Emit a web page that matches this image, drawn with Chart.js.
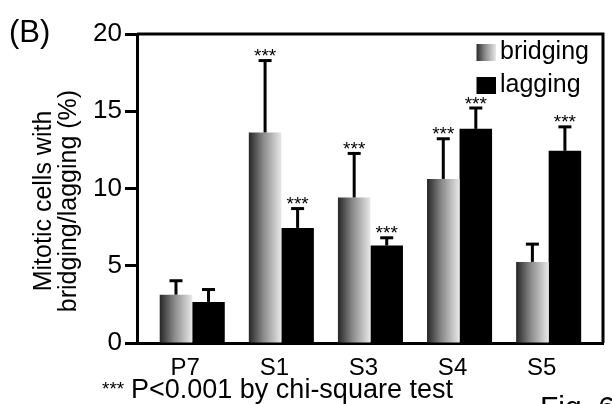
<!DOCTYPE html>
<html>
<head>
<meta charset="utf-8">
<script src="https://cdn.jsdelivr.net/npm/chart.js@4.4.1/dist/chart.umd.min.js"></script>
<style>
html,body{margin:0;padding:0;background:#fff;}
#wrap{width:612px;height:404px;position:relative;}
canvas{display:block;}
</style>
</head>
<body>
<div id="wrap"><canvas id="c" width="612" height="404"></canvas></div>
<script>
// ---- data ----
const categories = ['P7', 'S1', 'S3', 'S4', 'S5'];
const bridging    = [3.13, 13.63, 9.42, 10.62, 5.25];
const bridgingErr = [0.9, 4.65, 2.85, 2.6, 1.15];
const lagging     = [2.66, 7.45, 6.31, 13.86, 12.44];
const laggingErr  = [0.8, 1.25, 0.5, 1.35, 1.55];
const bridgingSig = [false, true, true, true, false];
const laggingSig  = [false, true, true, true, true];
const yTicks = [0, 5, 10, 15, 20];
const seriesNames = ['bridging', 'lagging'];
const yTitle = ['Mitotic cells with', 'bridging/lagging (%)'];
const panelLabel = '(B)';
const footStars = '***';
const footText = 'P<0.001 by chi-square test';
const figText = 'Fig. 6';

const FONT = '"Liberation Sans", Arial, Helvetica, sans-serif';
const CAT_PCT = 0.73;

function shade(g) {
  g.addColorStop(0, '#262626');
  g.addColorStop(0.45, '#8a8a8a');
  g.addColorStop(1, '#e8e8e8');
  return g;
}

// legend swatches
const gradBox = document.createElement('canvas');
gradBox.width = 20; gradBox.height = 17;
(function(){ const c = gradBox.getContext('2d'); c.fillStyle = shade(c.createLinearGradient(0,0,20,0)); c.fillRect(0,0,20,17); })();
const blackBox = document.createElement('canvas');
blackBox.width = 20; blackBox.height = 17;
(function(){ const c = blackBox.getContext('2d'); c.fillStyle = '#000'; c.fillRect(0,0,20,17); })();

function bridgingColor(ctx) {
  const chart = ctx.chart;
  const xs = chart.scales && chart.scales.x;
  if (!chart.chartArea || !xs || ctx.type !== 'data') return '#888';
  const c = xs.getPixelForValue(ctx.dataIndex);
  const step = Math.abs(xs.getPixelForValue(1) - xs.getPixelForValue(0));
  const w = step * CAT_PCT / 2;
  return shade(chart.ctx.createLinearGradient(c - w, 0, c, 0));
}

const extras = {
  id: 'extras',
  afterLayout(chart) {
    const lg = chart.legend;
    if (lg) {
      lg.left = 476.5; lg.top = 32;
      lg.right = lg.left + lg.width; lg.bottom = lg.top + lg.height;
    }
  },
  afterDatasetsDraw(chart) {
    const ctx = chart.ctx, ys = chart.scales.y, ca = chart.chartArea;
    ctx.save();
    ctx.strokeStyle = '#000'; ctx.fillStyle = '#000'; ctx.lineWidth = 3;
    // frame top and right
    ctx.beginPath();
    ctx.moveTo(ca.left, ca.top); ctx.lineTo(ca.right, ca.top); ctx.lineTo(ca.right, ca.bottom);
    ctx.stroke();
    const sets = [[bridging, bridgingErr, bridgingSig], [lagging, laggingErr, laggingSig]];
    sets.forEach((s, di) => {
      const meta = chart.getDatasetMeta(di);
      meta.data.forEach((bar, i) => {
        const x = bar.x;
        const y0 = ys.getPixelForValue(s[0][i]);
        const y1 = ys.getPixelForValue(s[0][i] + s[1][i]);
        ctx.lineWidth = 3;
        ctx.beginPath(); ctx.moveTo(x, y0); ctx.lineTo(x, y1); ctx.stroke();
        ctx.beginPath(); ctx.moveTo(x - 6.5, y1); ctx.lineTo(x + 6.5, y1); ctx.stroke();
        if (s[2][i]) {
          ctx.font = '19px ' + FONT; ctx.textAlign = 'center'; ctx.textBaseline = 'alphabetic';
          ctx.fillText('***', x, y1 + 1.5);
        }
      });
    });
    ctx.restore();
  },
  afterDraw(chart) {
    const ctx = chart.ctx;
    ctx.save();
    ctx.fillStyle = '#000';
    ctx.textBaseline = 'alphabetic';
    // panel label
    ctx.textAlign = 'left';
    ctx.font = '31px ' + FONT;
    ctx.fillText(panelLabel, 9, 42);
    // y title
    ctx.font = '25px ' + FONT;
    ctx.textAlign = 'center';
    [[yTitle[0], 50.5], [yTitle[1], 75.5]].forEach(([t, bx]) => {
      ctx.save(); ctx.translate(bx, 201); ctx.rotate(-Math.PI / 2); ctx.fillText(t, 0, 0); ctx.restore();
    });
    // footnote
    ctx.textAlign = 'left';
    ctx.font = '19px ' + FONT;
    ctx.fillText(footStars, 102, 395);
    ctx.font = '27px ' + FONT;
    ctx.fillText(footText, 131, 398);
    ctx.font = '30px ' + FONT;
    ctx.fillText(figText, 540, 417);
    ctx.restore();
  }
};

new Chart(document.getElementById('c'), {
  type: 'bar',
  data: {
    datasets: [
      { label: seriesNames[0], data: bridging.map((v, i) => ({x: i, y: v})), backgroundColor: bridgingColor, borderWidth: 0 },
      { label: seriesNames[1], data: lagging.map((v, i) => ({x: i, y: v})), backgroundColor: '#000', borderWidth: 0 }
    ]
  },
  options: {
    responsive: false,
    animation: false,
    devicePixelRatio: 1,
    categoryPercentage: CAT_PCT,
    barPercentage: 1.0,
    layout: { padding: { left: 0, top: 34, right: 9, bottom: 0 } },
    scales: {
      x: {
        type: 'linear', min: -0.62, max: 4.61, offset: false, z: 1,
        afterBuildTicks: s => { s.ticks = categories.map((c, i) => ({value: i})); },
        afterFit: s => { s.height = 61; },
        ticks: { callback: v => categories[v], font: { size: 24, family: FONT }, color: '#000', padding: 3, labelOffset: -7, maxRotation: 0, autoSkip: false },
        grid: { display: false, offset: false },
        border: { display: true, width: 3, color: '#000' }
      },
      y: {
        min: 0, max: 20,
        afterBuildTicks: s => { s.ticks = yTicks.map(v => ({value: v})); },
        afterFit: s => { s.width = 137; },
        ticks: { font: { size: 26, family: FONT }, color: '#000', padding: 3 },
        grid: { drawOnChartArea: false, drawTicks: true, tickLength: 12, tickWidth: 3, tickColor: '#000', color: '#000' },
        border: { display: true, width: 3, color: '#000' }
      }
    },
    plugins: {
      tooltip: { enabled: false },
      legend: {
        position: 'chartArea', align: 'start',
        labels: {
          font: { size: 25, family: FONT }, color: '#000',
          usePointStyle: true, boxWidth: 3, boxHeight: 17, padding: 8,
          generateLabels: chart => {
            const items = Chart.defaults.plugins.legend.labels.generateLabels(chart);
            items[0].pointStyle = gradBox; items[1].pointStyle = blackBox;
            items.forEach(it => { it.lineWidth = 0; });
            return items;
          }
        }
      }
    }
  },
  plugins: [extras]
});
</script>
</body>
</html>
